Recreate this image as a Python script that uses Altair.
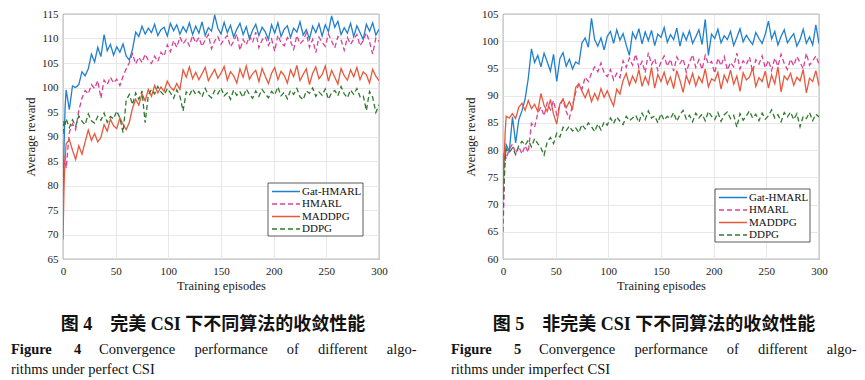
import altair as alt
import pandas as pd

SERIES = ["Gat-HMARL", "HMARL", "MADDPG", "DDPG"]
COLORS = ["#1f7fd0", "#dc3f95", "#e8583c", "#2f7a2f"]
DASHES = [[1, 0], [5, 3], [1, 0], [5, 3]]
EPISODES = [0, 1, 2, 3] + list(range(6, 301, 3))
X_TICKS = [0, 50, 100, 150, 200, 250, 300]
Y1_TICKS = [65, 70, 75, 80, 85, 90, 95, 100, 105, 110, 115]
Y2_TICKS = [60, 65, 70, 75, 80, 85, 90, 95, 100, 105]

# ---- Figure 4: perfect CSI ----
P1_GAT = [78, 88, 96, 99.5,
          95.5, 100.3, 100.0, 100.6, 103.2, 102.4, 103.8, 106.8, 105.2, 108.2,
          106.3, 110.8, 107.5, 108.8, 106.6, 108.3, 107.2, 108.9, 106.4, 105.6,
          107.8, 111.3, 110.4, 112.5, 110.9, 112.1, 111.2, 112.9, 110.6, 111.8,
          112.3, 110.5, 113.1, 111.6, 112.8, 110.9, 112.4, 111.3, 113.2, 110.8,
          112.5, 111.1, 113.4, 110.6, 112.2, 111.5, 114.8, 112.1, 110.9, 113.3,
          111.2, 112.7, 110.3, 111.9, 113.1, 110.8, 112.4, 109.9, 111.7, 112.9,
          110.6, 112.3, 111.4, 109.8, 112.8, 111.1, 113.2, 110.4, 111.9, 112.6,
          110.2, 112.1, 111.3, 113.4, 110.7, 111.8, 109.9, 112.5, 111.2, 113.0,
          110.5, 112.8, 111.4, 114.6, 112.3, 113.5, 110.8, 112.2, 111.1, 113.1,
          110.4, 112.6, 111.2, 109.8, 112.9, 111.5, 113.2, 110.7, 111.9]
P1_HMARL = [76, 84, 86, 83.5,
            90.8, 92.6, 91.4, 95.3, 97.8, 99.4, 98.7, 100.6, 99.8, 101.4,
            97.8, 101.5, 100.6, 102.1, 100.9, 101.7, 100.4, 102.3, 103.8, 105.1,
            106.9, 104.8, 106.2, 105.1, 106.8, 105.5, 104.9, 106.4, 105.3, 107.2,
            106.4, 108.7, 107.3, 109.6, 108.2, 110.3, 108.9, 109.8, 108.5, 110.6,
            109.1, 110.2, 108.4, 109.7, 110.8, 107.9, 109.5, 110.4, 108.8, 109.9,
            110.6, 108.3, 109.4, 110.9, 107.6, 109.8, 108.7, 110.5, 109.2, 111.3,
            108.1, 109.7, 110.4, 108.6, 109.9, 107.4, 110.7, 109.1, 108.5, 110.2,
            109.4, 107.8, 110.6, 108.9, 109.6, 111.1, 108.2, 109.8, 107.1, 110.3,
            109.2, 108.4, 110.9, 109.5, 108.1, 110.4, 109.7, 107.6, 110.2, 108.8,
            109.9, 110.8, 108.5, 109.6, 111.2, 109.3, 106.8, 110.1, 109.4]
P1_MADDPG = [69, 80, 85.5, 88.5,
             89.4, 87.2, 85.3, 88.1, 86.4, 88.9, 91.3, 89.2, 90.6, 88.9,
             89.8, 92.4, 91.1, 93.5, 92.2, 91.6, 93.8, 92.5, 91.4, 92.9,
             95.8, 97.6, 96.4, 98.7, 97.3, 99.6, 98.2, 100.4, 98.9, 100.1,
             99.2, 101.3, 100.1, 99.4, 100.8, 99.6, 103.6, 102.1, 104.2, 101.8,
             103.1, 101.6, 102.8, 104.1, 101.4, 102.6, 103.7, 101.9, 102.9, 104.3,
             101.5, 103.2, 102.4, 100.9, 103.8, 102.1, 104.4, 101.7, 102.8, 103.5,
             101.2, 103.9, 102.3, 100.8, 102.9, 104.1, 101.6, 103.3, 102.5, 100.9,
             103.6, 102.2, 104.5, 101.4, 102.7, 103.8, 100.6, 102.9, 104.2, 101.8,
             102.6, 104.4, 101.3, 103.5, 102.1, 100.7, 103.9, 102.4, 101.5, 103.6,
             102.2, 104.1, 101.6, 103.2, 102.6, 100.9, 103.7, 102.3, 101.4]
P1_DDPG = [90.5, 93.2, 92.4, 93.6,
           91.8, 93.4, 92.1, 94.2, 93.1, 92.4, 94.6, 93.2, 92.7, 94.1,
           93.3, 94.8, 92.9, 94.1, 93.6, 95.2, 93.8, 90.8, 97.4, 98.6,
           96.5, 98.9, 97.6, 99.3, 92.8, 98.5, 99.6, 98.7, 100.2, 99.1,
           98.4, 99.8, 98.9, 97.8, 99.5, 98.2, 95.2, 99.1, 98.4, 99.7,
           98.6, 99.2, 98.1, 99.8, 98.5, 97.9, 99.4, 98.7, 99.9, 98.3,
           98.9, 97.6, 99.5, 98.4, 99.1, 98.0, 99.7, 98.6, 97.8, 99.3,
           98.2, 99.6, 98.7, 97.9, 99.2, 98.5, 100.1, 98.3, 99.0, 97.7,
           99.4, 98.6, 99.8, 98.1, 97.5, 99.3, 98.8, 99.9, 98.2, 99.1,
           98.4, 99.7, 97.6, 98.9, 99.4, 98.3, 100.2, 98.7, 97.9, 99.5,
           98.6, 99.8, 98.1, 98.4, 95.3, 99.2, 98.0, 94.9, 96.5]

# ---- Figure 5: imperfect CSI ----
P2_GAT = [74, 79.5, 78, 81,
          79.8, 86.1, 81.3, 85.6, 87.2, 89.4, 93.2, 98.6, 96.1, 97.4,
          95.3, 97.8, 96.2, 94.5, 97.6, 92.6, 96.8, 97.9, 95.4, 96.7,
          94.9, 96.2, 95.8, 99.7, 100.6, 98.9, 104.2, 100.3, 99.1, 100.6,
          98.4, 100.9, 101.8, 99.6, 102.1, 100.2, 101.4, 99.3, 97.4, 101.6,
          100.4, 102.3, 99.5, 101.7, 100.1, 102.0, 99.2, 101.3, 100.7, 102.5,
          99.8, 101.2, 100.3, 102.4, 99.1, 101.5, 100.2, 101.9, 99.6, 100.8,
          102.1, 99.4, 104.0, 97.4, 101.3, 100.5, 102.2, 99.7, 101.0, 100.3,
          101.8, 99.2, 100.7, 102.3, 99.9, 101.1, 100.2, 99.4, 101.6, 100.5,
          99.6, 101.3, 103.7, 100.4, 101.8, 99.3, 100.9, 102.1, 99.7, 100.6,
          101.4, 99.1, 100.3, 102.2, 99.6, 100.8, 99.3, 103.0, 99.6]
P2_HMARL = [65, 72, 79.5, 78.4,
            80.2, 81.1, 79.4, 80.6, 79.3, 80.8, 79.6, 84.9, 84.2, 86.8,
            87.9, 86.3, 88.7, 87.4, 89.1, 86.5, 88.2, 89.3, 87.1, 85.8,
            88.3, 90.6, 92.1, 91.2, 93.4, 92.6, 94.1, 95.3, 94.4, 96.0,
            94.2, 93.5, 94.8, 92.9, 94.1, 93.3, 96.4, 95.2, 96.9, 95.6,
            97.6, 95.1, 96.3, 94.2, 97.9, 95.7, 96.8, 94.6, 96.2, 97.3,
            95.4, 96.7, 94.5, 97.1, 95.9, 96.8, 94.3, 96.1, 97.5, 95.2,
            96.6, 94.8, 97.4, 95.8, 96.3, 94.1, 96.9, 95.5, 97.2, 94.7,
            96.1, 95.3, 97.8, 94.9, 96.4, 95.7, 97.1, 94.4, 96.6, 95.8,
            97.3, 95.1, 96.5, 94.6, 96.9, 95.4, 97.6, 95.9, 94.8, 96.7,
            95.5, 97.2, 96.1, 94.9, 97.8, 95.6, 96.4, 97.3, 95.8]
P2_MADDPG = [71, 78, 83, 86.2,
             85.9, 86.7, 85.8, 87.9, 88.6, 87.3, 89.1, 87.6, 88.4, 87.1,
             90.4, 88.2, 87.1, 89.3, 86.6, 84.8, 88.5, 89.4, 87.8, 88.9,
             87.6, 91.5, 92.2, 90.8, 89.6, 91.1, 88.9, 90.4, 89.2, 91.3,
             89.7, 90.9, 89.4, 88.1, 91.2, 90.3, 92.8, 94.1, 91.9, 93.6,
             92.4, 94.8, 91.7, 93.5, 92.1, 95.2, 91.4, 93.9, 92.6, 94.3,
             92.1, 93.4, 91.3, 94.6, 92.8, 90.6, 93.7, 92.2, 94.1, 91.8,
             93.5, 92.4, 94.9, 91.6, 93.1, 92.7, 94.3, 91.2, 93.8, 92.5,
             94.7, 92.1, 93.6, 90.8, 94.2, 92.9, 93.4, 95.1, 91.7, 93.3,
             92.6, 94.5, 91.4, 93.8, 92.2, 95.3, 90.7, 93.6, 92.9, 94.1,
             91.9, 93.4, 92.7, 94.8, 90.5, 93.2, 92.6, 94.6, 91.8]
P2_DDPG = [68, 74, 78.5, 80.2,
           79.6, 80.4, 79.2, 80.8, 81.6, 80.9, 81.8, 80.6, 82.1, 81.2,
           80.4, 79.1, 81.5, 82.3, 81.2, 83.1, 82.4, 84.2, 83.6, 84.4,
           83.5, 84.1, 83.2, 84.7, 83.9, 85.0, 84.3, 83.4, 84.8, 83.7,
           85.2, 84.6, 85.9, 84.9, 86.1, 85.3, 84.7, 86.2, 85.4, 85.9,
           86.4, 85.1, 86.8, 85.6, 87.2, 85.9, 86.3, 85.0, 86.7, 85.5,
           86.2, 85.8, 86.9, 85.3, 86.5, 87.3, 85.7, 86.4, 85.2, 86.8,
           85.9, 86.6, 85.4, 87.1, 86.2, 85.6, 86.9, 85.3, 86.5, 87.0,
           85.8, 86.4, 84.2, 86.7, 85.5, 86.3, 87.2, 85.9, 86.6, 85.4,
           86.8, 85.7, 86.3, 87.4, 85.9, 86.5, 85.2, 86.9, 86.1, 87.0,
           85.6, 86.7, 84.3, 86.2, 85.8, 86.9, 85.4, 86.6, 86.1]

CAP4_CN = "图 4\u2003完美 CSI 下不同算法的收敛性能"
CAP4_L1 = ["Figure", "4", "Convergence", "performance", "of", "different", "algo-"]
CAP4_L2 = "rithms under perfect CSI"
CAP5_CN = "图 5\u2003非完美 CSI 下不同算法的收敛性能"
CAP5_L1 = ["Figure", "5", "Convergence", "performance", "of", "different", "algo-"]
CAP5_L2 = "rithms under imperfect CSI"

SERIF = "Liberation Serif, Noto Sans CJK SC, serif"
W, H = 316, 245
WORD_X = [-52, 11, 36, 131.5, 223.8, 254.9, 323.8]


def long_df(cols):
    rows = []
    for name, vals in zip(SERIES, cols):
        assert len(vals) == len(EPISODES), (name, len(vals))
        for e, v in zip(EPISODES, vals):
            rows.append({"ep": e, "val": v, "series": name})
    return pd.DataFrame(rows)


ONE = pd.DataFrame({"k": [0]})


def panel(cols, ydom, yticks, cap_cn, cn_x, words, line2, legxy):
    df = long_df(cols)
    color = alt.Color("series:N", scale=alt.Scale(domain=SERIES, range=COLORS), legend=None)
    dash = alt.StrokeDash("series:N", scale=alt.Scale(domain=SERIES, range=DASHES), legend=None)
    lines = alt.Chart(df).mark_line(strokeWidth=1.3, clip=True).encode(
        x=alt.X("ep:Q", scale=alt.Scale(domain=[0, 300], nice=False),
                axis=alt.Axis(values=X_TICKS, title="Training episodes", labelFlush=False,
                              labelPadding=6, titlePadding=3)),
        y=alt.Y("val:Q", scale=alt.Scale(domain=ydom, nice=False, zero=False),
                axis=alt.Axis(values=yticks, title="Average reward", labelFlush=False,
                              labelPadding=5, titlePadding=4)),
        color=color,
        strokeDash=dash,
        order=alt.Order("ep:Q"),
    )
    layers = [lines]
    lx, ly = legxy
    layers.append(alt.Chart(ONE).mark_rect(fill="white", stroke="#333", strokeWidth=0.8).encode(
        x=alt.value(lx), x2=alt.value(lx + 95), y=alt.value(ly), y2=alt.value(ly + 53)))
    for i, (name, c, d) in enumerate(zip(SERIES, COLORS, DASHES)):
        yy = ly + 8.5 + 12.5 * i
        layers.append(alt.Chart(ONE).mark_rule(color=c, strokeWidth=1.4, strokeDash=d).encode(
            x=alt.value(lx + 4), x2=alt.value(lx + 32), y=alt.value(yy)))
        layers.append(alt.Chart(ONE).mark_text(text=name, align="left", baseline="middle",
                                               font=SERIF, fontSize=11, color="#111").encode(
            x=alt.value(lx + 34), y=alt.value(yy)))
    # captions
    layers.append(alt.Chart(ONE).mark_text(text=cap_cn, align="center", baseline="alphabetic",
                                           font=SERIF, fontSize=18, fontWeight="bold",
                                           color="#111").encode(
        x=alt.value(cn_x), y=alt.value(316)))
    for j, (w, wx) in enumerate(zip(words, WORD_X)):
        layers.append(alt.Chart(ONE).mark_text(text=w, align="left", baseline="alphabetic",
                                               font=SERIF, fontSize=14.5,
                                               fontWeight="bold" if j < 2 else "normal",
                                               color="#111").encode(
            x=alt.value(wx), y=alt.value(340)))
    layers.append(alt.Chart(ONE).mark_text(text=line2, align="left", baseline="alphabetic",
                                           font=SERIF, fontSize=14.5, color="#111").encode(
        x=alt.value(-52), y=alt.value(360)))
    return alt.layer(*layers).properties(width=W, height=H)


p1 = panel([P1_GAT, P1_HMARL, P1_MADDPG, P1_DDPG], [65, 115], Y1_TICKS,
           CAP4_CN, 150, CAP4_L1, CAP4_L2, (205, 169))
p2 = panel([P2_GAT, P2_HMARL, P2_MADDPG, P2_DDPG], [60, 105], Y2_TICKS,
           CAP5_CN, 151, CAP5_L1, CAP5_L2, (212, 175))

chart = alt.hconcat(p1, p2, spacing=124, bounds="flush").properties(
    padding={"left": 2, "top": -1, "right": 0, "bottom": 0}
).configure_view(
    stroke="#333", strokeWidth=0.8
).configure_axis(
    labelFont=SERIF, labelFontSize=11, labelColor="#222",
    titleFont=SERIF, titleFontSize=12.5, titleFontWeight="normal", titleColor="#222",
    gridColor="#e2e2e2", gridWidth=0.8, domain=False, ticks=False,
)

chart.save("out.html", embed_options={"renderer": "svg", "actions": False})
